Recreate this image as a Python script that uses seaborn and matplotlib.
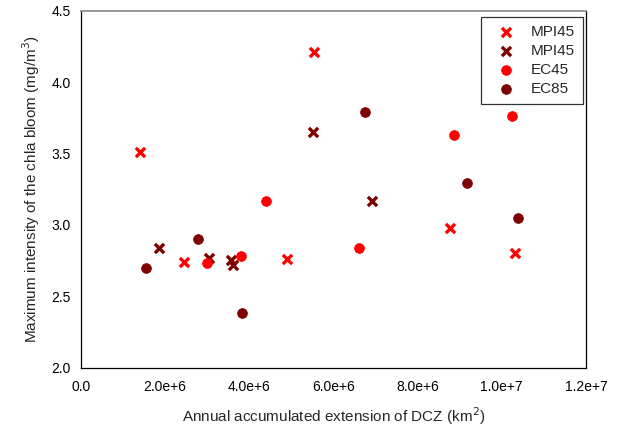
import matplotlib
matplotlib.use("Agg")
import matplotlib.pyplot as plt
import seaborn as sns
import numpy as np
import pandas as pd

sns.set_style("white")
plt.rcParams['font.family'] = ['Liberation Sans', 'DejaVu Sans']

# Data (x in km^2, y in mg/m^3)
mpi45a_x = [1.40e6, 2.45e6, 4.90e6, 5.55e6, 8.77e6, 10.31e6]
mpi45a_y = [3.51, 2.74, 2.76, 4.21, 2.98, 2.80]
mpi45b_x = [1.87e6, 3.04e6, 3.56e6, 3.62e6, 5.51e6, 6.92e6]
mpi45b_y = [2.84, 2.77, 2.75, 2.72, 3.65, 3.17]
ec45_x = [3.01e6, 3.81e6, 4.39e6, 6.62e6, 8.87e6, 10.24e6]
ec45_y = [2.73, 2.78, 3.17, 2.84, 3.63, 3.76]
ec85_x = [1.54e6, 2.78e6, 3.84e6, 6.75e6, 9.18e6, 10.38e6]
ec85_y = [2.70, 2.90, 2.38, 3.79, 3.29, 3.05]

labels = ["MPI45", "MPI45", "EC45", "EC85"]
xticks = [0, 2e6, 4e6, 6e6, 8e6, 1e7, 1.2e7]
xticklabels = ["0.0", "2.0e+6", "4.0e+6", "6.0e+6", "8.0e+6", "1.0e+7", "1.2e+7"]
yticks = [2.0, 2.5, 3.0, 3.5, 4.0, 4.5]
yticklabels = ["2.0", "2.5", "3.0", "3.5", "4.0", "4.5"]

series = [
    (mpi45a_x, mpi45a_y, labels[0], "#ff0000", "x"),
    (mpi45b_x, mpi45b_y, labels[1], "#7f0000", "x"),
    (ec45_x, ec45_y, labels[2], "#ff0000", "o"),
    (ec85_x, ec85_y, labels[3], "#7f0000", "o"),
]

fig = plt.figure(figsize=(6.19, 4.26), dpi=100)
ax = fig.add_axes([0.1304, 0.1373, 0.8163, 0.8376])

for xs, ys, lab, col, mk in series:
    df = pd.DataFrame({"x": xs, "y": ys})
    if mk == "x":
        sns.scatterplot(data=df, x="x", y="y", ax=ax, marker="x", color=col,
                        s=44, linewidth=2.4, label=lab, zorder=3)
    else:
        sns.scatterplot(data=df, x="x", y="y", ax=ax, marker="o", color=col,
                        s=50, edgecolor=col, linewidth=0.5, label=lab, zorder=3)

ax.set_xlim(0, 1.2e7)
ax.set_ylim(2.0, 4.5)
ax.set_xticks(xticks)
ax.set_xticklabels(xticklabels)
ax.set_yticks(yticks)
ax.set_yticklabels(yticklabels)
ax.tick_params(axis="x", direction="in", length=3, width=0.8, labelsize=10, pad=9, colors="black")
ax.tick_params(axis="y", direction="out", length=4, width=0.8, labelsize=10, pad=3, colors="black")

ax.set_xlabel("Annual accumulated extension of DCZ (km$^2$)", fontsize=11, labelpad=8)
ax.set_ylabel("Maximum intensity of the chla bloom (mg/m$^3$)", fontsize=11, labelpad=7)

for side in ["left", "bottom", "right"]:
    ax.spines[side].set_color("black")
    ax.spines[side].set_linewidth(0.9)
    ax.spines[side].set_visible(True)
ax.spines["top"].set_visible(True)
ax.spines["top"].set_color("#888888")
ax.spines["top"].set_linewidth(1.2)

leg = ax.legend(loc="upper right", bbox_to_anchor=(0.994, 0.982), borderaxespad=0,
                frameon=True, fancybox=False, fontsize=11, handletextpad=0.5,
                borderpad=0.5, labelspacing=0.33, handlelength=2.3)
leg.get_frame().set_edgecolor("black")
leg.get_frame().set_linewidth(0.9)

fig.savefig("out.png", dpi=100, facecolor="white")
